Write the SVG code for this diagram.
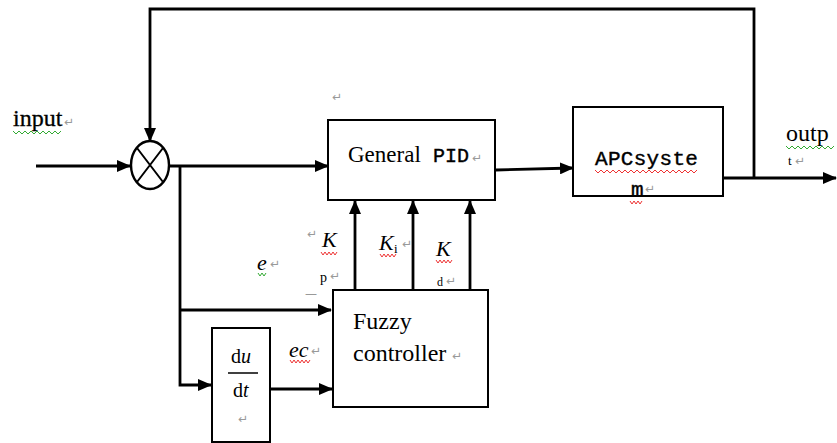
<svg xmlns="http://www.w3.org/2000/svg" width="837" height="443" viewBox="0 0 837 443">
<style>
.box{fill:#fff;stroke:#000;stroke-width:2}
.ln{fill:none;stroke:#000;stroke-width:2.8}
.t{font-family:"Liberation Serif",serif;fill:#000}
.m{font-family:"Liberation Mono",monospace;fill:#000;stroke:#000;stroke-width:0.4}
.it{font-style:italic}
.rm{font-family:"DejaVu Sans",sans-serif;fill:#999;font-size:12px}
.sqr{fill:none;stroke:#e33;stroke-width:1}
.sqg{fill:none;stroke:#3a3;stroke-width:1}
</style>
<defs>
<marker id="ah" markerUnits="userSpaceOnUse" markerWidth="14" markerHeight="12" refX="13" refY="6" orient="auto">
<path d="M0,0 L14,6 L0,12 Z" fill="#000"/>
</marker>
</defs>
<rect width="837" height="443" fill="#fff"/>
<g id="connectors">
<path class="ln" d="M754,178 V9 H150 V141" marker-end="url(#ah)"/>
<path class="ln" d="M36,166 H130" marker-end="url(#ah)"/>
<path class="ln" d="M169,166 H328" marker-end="url(#ah)"/>
<path class="ln" d="M180,166 V385 H211" marker-end="url(#ah)"/>
<path class="ln" d="M180,310 H331" marker-end="url(#ah)"/>
<path class="ln" d="M270,389 H332" marker-end="url(#ah)"/>
<path class="ln" d="M496,170 L573,168" marker-end="url(#ah)"/>
<path class="ln" d="M723,178 H836" marker-end="url(#ah)"/>
<path class="ln" d="M355,290 V201" marker-end="url(#ah)"/>
<path class="ln" d="M413,290 V201" marker-end="url(#ah)"/>
<path class="ln" d="M470,290 V201" marker-end="url(#ah)"/>
</g>
<g id="input-label">
<text class="t" x="13" y="126" font-size="24" stroke="#000" stroke-width="0.3">input</text>
<text class="rm" x="64" y="126">↵</text>
<path class="sqg" d="M13,131 l3,3 l3,-3 l3,3 l3,-3 l3,3 l3,-3 l3,3 l3,-3 l3,3 l3,-3 l3,3 l3,-3 l3,3 l3,-3 l3,3 l3,-3"/>
</g>
<g id="sum">
<ellipse cx="150" cy="165" rx="19" ry="24" fill="#fff" stroke="#000" stroke-width="2.4"/>
<path d="M137,148 L163,182 M163,148 L137,182" stroke="#000" stroke-width="2"/>
</g>
<g id="pid">
<rect class="box" x="328" y="120" width="167" height="80"/>
<text class="t" x="348" y="162" font-size="23">General</text>
<text class="m" x="433" y="162" font-size="20">PID</text>
<text class="rm" x="472" y="162">↵</text>
<text class="rm" x="332" y="101">↵</text>
</g>
<g id="apc">
<rect class="box" x="573" y="107" width="150" height="89"/>
<text class="m" x="595" y="165" font-size="21" letter-spacing="0.3">APCsyste</text>
<text class="m" x="631" y="196" font-size="21">m</text>
<text class="rm" x="645" y="193">↵</text>
<path class="sqr" d="M595,170 l3,3 l3,-3 l3,3 l3,-3 l3,3 l3,-3 l3,3 l3,-3 l3,3 l3,-3 l3,3 l3,-3 l3,3 l3,-3 l3,3 l3,-3 l3,3 l3,-3 l3,3 l3,-3 l3,3 l3,-3 l3,3 l3,-3 l3,3 l3,-3 l3,3 l3,-3 l3,3 l3,-3 l3,3 l3,-3 l3,3 l3,-3"/>
<path class="sqr" d="M630,201 l2,3 l2,-3 l2,3 l2,-3 l2,3 l2,-3"/>
</g>
<g id="output-label">
<text class="t" x="786" y="141" font-size="24">outp</text>
<path class="sqg" d="M786,146 l3,3 l3,-3 l3,3 l3,-3 l3,3 l3,-3 l3,3 l3,-3 l3,3 l3,-3 l3,3 l3,-3 l3,3 l3,-3 l3,3 l3,-3"/>
<text class="t" x="788" y="165" font-size="13">t</text>
<text class="rm" x="795" y="165">↵</text>
</g>
<g id="fuzzy">
<rect class="box" x="333" y="290" width="155" height="117"/>
<text class="t" x="353" y="329" font-size="24">Fuzzy</text>
<text class="t" x="353" y="361" font-size="24">controller</text>
<text class="rm" x="452" y="360">↵</text>
</g>
<g id="deriv">
<rect class="box" x="212" y="328" width="58" height="114"/>
<text class="t" x="231" y="363" font-size="20">d<tspan class="it">u</tspan></text>
<line x1="228" y1="373" x2="258" y2="373" stroke="#000" stroke-width="1.5"/>
<text class="t" x="233" y="397" font-size="20">d<tspan class="it">t</tspan></text>
<text class="rm" x="238" y="423">↵</text>
</g>
<g id="labels">
<text class="t it" x="322" y="247" font-size="22">K</text>
<path class="sqr" d="M321,252 l2,3 l2,-3 l2,3 l2,-3 l2,3 l2,-3 l2,3 l2,-3"/>
<text class="t" x="320" y="282" font-size="14">p</text>
<text class="rm" x="330" y="280">↵</text>
<text class="t it" x="379" y="250" font-size="22">K</text>
<text class="t" x="394" y="253" font-size="13">i</text>
<text class="rm" x="402" y="248">↵</text>
<path class="sqr" d="M380,254 l2,3 l2,-3 l2,3 l2,-3 l2,3 l2,-3 l2,3 l2,-3"/>
<text class="t it" x="436" y="256" font-size="22">K</text>
<path class="sqr" d="M436,260 l2,3 l2,-3 l2,3 l2,-3 l2,3 l2,-3 l2,3 l2,-3"/>
<text class="t" x="437" y="286" font-size="12">d</text>
<text class="rm" x="446" y="285">↵</text>
<text class="t it" x="257" y="270" font-size="22">e</text>
<path class="sqg" d="M258,273 l2,3 l2,-3 l2,3 l2,-3"/>
<text class="rm" x="270" y="268">↵</text>
<text class="t it" x="289" y="357" font-size="22">ec</text>
<path class="sqr" d="M290,360 l2,3 l2,-3 l2,3 l2,-3 l2,3 l2,-3 l2,3 l2,-3 l2,3 l2,-3"/>
<text class="rm" x="311" y="355">↵</text>
<text class="rm" x="307" y="238">↵</text>
<text class="rm" x="305" y="298" font-size="8">—</text>
</g>
</svg>
